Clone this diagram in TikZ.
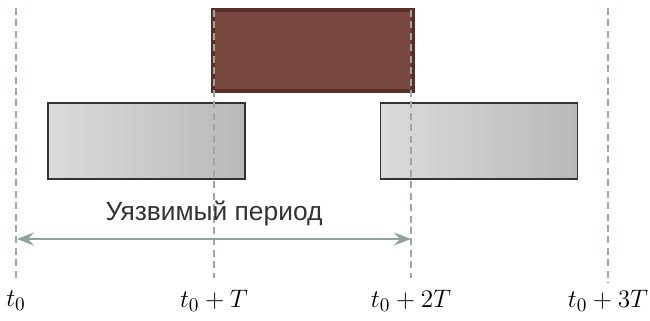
\documentclass[tikz,border=0pt]{standalone}
\usepackage{fontspec}
\newfontfamily\capfont{Liberation Sans}
\usepackage{tikz}
\usetikzlibrary{positioning,arrows.meta}
\definecolor{slotbrown}{HTML}{784840}
\definecolor{slotedge}{HTML}{5A2E28}
\definecolor{guidegray}{HTML}{98AAA2}
\definecolor{spangray}{HTML}{8FA399}
\definecolor{captgray}{HTML}{333333}
\tikzset{
  hit/.style={rectangle, fill=slotbrown, draw=slotedge, line width=2pt, minimum width=4cm, minimum height=1.62cm, inner sep=0pt},
  frame/.style={rectangle, left color=gray!28, right color=gray!55, draw=black!80, line width=1pt, minimum width=3.94cm, minimum height=1.52cm, inner sep=0pt},
  guide/.style={draw=guidegray, line width=0.8pt, dash pattern=on 4pt off 2.5pt},
  span/.style={draw=spangray, line width=1.3pt, {Stealth[length=3.4mm,width=2.6mm,inset=1.2mm]}-{Stealth[length=3.4mm,width=2.6mm,inset=1.2mm]}},
  tick/.style={font=\fontsize{15}{18}\selectfont, inner sep=0pt},
  captxt/.style={font=\capfont\fontsize{15}{18}\selectfont, text=captgray, inner sep=0pt}
}
\begin{document}
\begin{tikzpicture}[x=0.02cm, y=-0.02cm]
  \useasboundingbox (0,0) rectangle (650,321);

  % Frames
  \node[hit] (top) at (313,50.5) {};
  \node[frame] (left) at (146.5,141) {};
  \node[frame] (right) at (479,141) {};

  % Time guides
  \coordinate (g0a) at (16,8);   \coordinate (g0b) at (16,278);
  \coordinate (g1a) at (214,10); \coordinate (g1b) at (214,278);
  \coordinate (g2a) at (411,10); \coordinate (g2b) at (411,278);
  \coordinate (g3a) at (608,8);  \coordinate (g3b) at (608,283);
  \draw[guide] (g0a) -- (g0b);
  \draw[guide] (g1a) -- (g1b);
  \draw[guide] (g2a) -- (g2b);
  \draw[guide] (g3a) -- (g3b);

  % Vulnerable period
  \coordinate (s0) at (17,239);
  \coordinate (s2) at (411,239);
  \draw[span] (s0) -- (s2);
  \node[captxt] (per) at (214,213) {Уязвимый период};

  % Time labels
  \node[tick] (t0) at (16,301) {$t_0$};
  \node[tick] (t1) at (214,301) {$t_0+T$};
  \node[tick] (t2) at (411,301) {$t_0+2T$};
  \node[tick] (t3) at (608,301) {$t_0+3T$};
\end{tikzpicture}
\end{document}
